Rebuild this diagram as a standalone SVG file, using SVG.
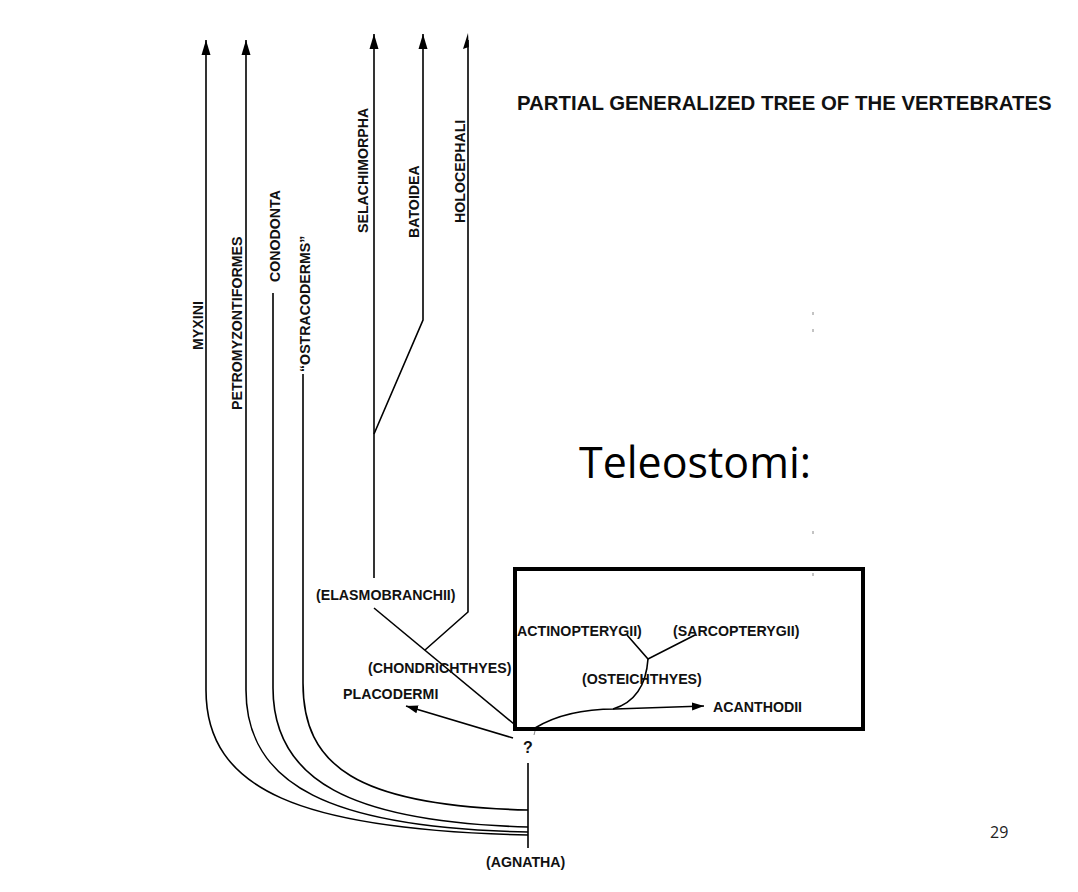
<svg xmlns="http://www.w3.org/2000/svg" width="1078" height="892" viewBox="0 0 1078 892">
<style>
  .ln { fill: none; stroke: #000; stroke-width: 1.6; }
  .lbl { font-family: "Liberation Sans", Arial, sans-serif; font-weight: bold; font-size: 14.2px; fill: #111; }
  .tick { stroke: #888; stroke-width: 1; }
</style>
<defs>
  <marker id="arrowUp" markerUnits="userSpaceOnUse" markerWidth="16" markerHeight="10" refX="15" refY="5" orient="auto">
    <path d="M0,0.5 L15,5 L0,9.5 Z" fill="#000"/>
  </marker>
  <marker id="arrowSm" markerUnits="userSpaceOnUse" markerWidth="13" markerHeight="9" refX="12" refY="4.5" orient="auto">
    <path d="M0,0.5 L12,4.5 L0,8.5 Z" fill="#000"/>
  </marker>
</defs>
<rect width="1078" height="892" fill="#fff"/>

<g id="connectors">
  <path id="c-myxini" class="ln" d="M528,835 C300,830 206,790 206,690 L206,40" marker-end="url(#arrowUp)"/>
  <path id="c-petro" class="ln" d="M528,832 C330,828 246,785 246,690 L246,40" marker-end="url(#arrowUp)"/>
  <path id="c-cono" class="ln" d="M528,827 C350,822 273,780 273,688 L273,293"/>
  <path id="c-ostra" class="ln" d="M528,810 C355,806 303,765 303,683 L303,374"/>
  <path id="c-agnatha" class="ln" d="M528,763 L528,848"/>
  <path id="c-selachi" class="ln" d="M374,578 L374,34" marker-end="url(#arrowUp)"/>
  <path id="c-batoidea" class="ln" d="M374,434 L423,320 L423,34" marker-end="url(#arrowUp)"/>
  <path id="c-holo" class="ln" d="M425,650 L468,612 L468,40"/>
  <path d="M468,33 L463,49 L468.8,47 Z" fill="#000"/>
  <path id="c-elasmo" class="ln" d="M374,608 L514,724"/>
  <path id="c-placo" class="ln" d="M513,738 L406,706" marker-end="url(#arrowSm)"/>
  <path id="c-acantho" class="ln" d="M535,728 C558,714 588,709 615,709 L704,706" marker-end="url(#arrowSm)"/>
  <path id="c-osteich" class="ln" d="M613,709 C633,703 646,688 648,659"/>
  <path id="c-actino-sarco" class="ln" d="M627,635 L648,659 L695,635"/>
</g>

<g id="box-teleostomi">
  <rect x="515" y="569" width="348" height="160" fill="none" stroke="#000" stroke-width="4"/>
</g>

<g id="title">
  <text x="517" y="110" font-family="Liberation Sans, Arial, sans-serif" font-weight="bold" font-size="20.4" fill="#111">PARTIAL GENERALIZED TREE OF THE VERTEBRATES</text>
</g>

<g id="teleostomi-label">
  <text x="579" y="478" font-family="Open Sans, Noto Sans, sans-serif" font-size="44" textLength="232" lengthAdjust="spacingAndGlyphs" fill="#000">Teleostomi:</text>
</g>

<g id="page-number">
  <text x="990" y="838" font-family="Open Sans, Noto Sans, sans-serif" font-size="16" fill="#222">29</text>
</g>

<g id="n-myxini"><text class="lbl" transform="translate(203,350) rotate(-90)">MYXINI</text></g>
<g id="n-petromyzontiformes"><text class="lbl" transform="translate(242,410) rotate(-90)">PETROMYZONTIFORMES</text></g>
<g id="n-conodonta"><text class="lbl" transform="translate(280,282) rotate(-90)">CONODONTA</text></g>
<g id="n-ostracoderms"><text class="lbl" transform="translate(310,372) rotate(-90)">“OSTRACODERMS”</text></g>
<g id="n-selachimorpha"><text class="lbl" transform="translate(368,233) rotate(-90)">SELACHIMORPHA</text></g>
<g id="n-batoidea"><text class="lbl" transform="translate(419,238) rotate(-90)">BATOIDEA</text></g>
<g id="n-holocephali"><text class="lbl" transform="translate(465,223) rotate(-90)">HOLOCEPHALI</text></g>

<g id="n-elasmobranchii"><text class="lbl" x="316" y="600">(ELASMOBRANCHII)</text></g>
<g id="n-chondrichthyes"><text class="lbl" x="368" y="673">(CHONDRICHTHYES)</text></g>
<g id="n-placodermi"><text class="lbl" x="343" y="699">PLACODERMI</text></g>
<g id="n-actinopterygii"><text class="lbl" x="517" y="636">ACTINOPTERYGII)</text></g>
<g id="n-sarcopterygii"><text class="lbl" x="673" y="636">(SARCOPTERYGII)</text></g>
<g id="n-osteichthyes"><text class="lbl" x="582" y="684">(OSTEICHTHYES)</text></g>
<g id="n-acanthodii"><text class="lbl" x="713" y="712">ACANTHODII</text></g>
<g id="n-question"><text class="lbl" x="528" y="753" text-anchor="middle" style="font-size:16px">?</text></g>
<g id="n-agnatha"><text class="lbl" x="486" y="867">(AGNATHA)</text></g>

<g id="ticks">
  <line class="tick" x1="813" y1="312" x2="813" y2="315"/>
  <line class="tick" x1="813" y1="329" x2="813" y2="332"/>
  <line class="tick" x1="813" y1="531" x2="813" y2="534"/>
  <line class="tick" x1="813" y1="573" x2="813" y2="576"/>
  <line class="tick" x1="535" y1="731" x2="534" y2="735"/>
</g>
</svg>
